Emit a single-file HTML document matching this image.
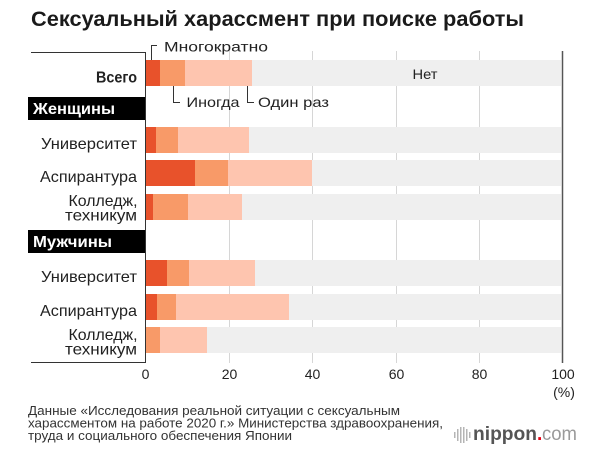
<!DOCTYPE html>
<html><head><meta charset="utf-8"><style>
html,body{margin:0;padding:0;background:#fff;}
svg{display:block;}
text{font-family:"Liberation Sans","DejaVu Sans",sans-serif;}
</style></head><body>
<svg width="616" height="468" viewBox="0 0 616 468" xmlns="http://www.w3.org/2000/svg">
<rect width="616" height="468" fill="#fff"/>
<!-- Title -->
<text x="31" y="26" font-size="21" font-weight="bold" fill="#1a1a1a" textLength="493" lengthAdjust="spacingAndGlyphs">Сексуальный харассмент при поиске работы</text>

<!-- gridlines -->
<g stroke="#d6d6d6" stroke-width="1">
<line x1="229.5" y1="51" x2="229.5" y2="363"/>
<line x1="312.5" y1="51" x2="312.5" y2="363"/>
<line x1="396.5" y1="51" x2="396.5" y2="363"/>
<line x1="479.5" y1="51" x2="479.5" y2="363"/>
</g>

<!-- bars -->
<g>
<!-- Всего -->
<rect x="146" y="60" width="415" height="26" fill="#efefef"/>
<rect x="146" y="60" width="106" height="26" fill="#fec5af"/>
<rect x="146" y="60" width="39" height="26" fill="#f89a68"/>
<rect x="146" y="60" width="14" height="26" fill="#e8522b"/>
<!-- W Univ -->
<rect x="146" y="127" width="415" height="26" fill="#efefef"/>
<rect x="146" y="127" width="103" height="26" fill="#fec5af"/>
<rect x="146" y="127" width="32" height="26" fill="#f89a68"/>
<rect x="146" y="127" width="10" height="26" fill="#e8522b"/>
<!-- W Asp -->
<rect x="146" y="160" width="415" height="26" fill="#efefef"/>
<rect x="146" y="160" width="166" height="26" fill="#fec5af"/>
<rect x="146" y="160" width="82" height="26" fill="#f89a68"/>
<rect x="146" y="160" width="49" height="26" fill="#e8522b"/>
<!-- W Coll -->
<rect x="146" y="194" width="415" height="26" fill="#efefef"/>
<rect x="146" y="194" width="96" height="26" fill="#fec5af"/>
<rect x="146" y="194" width="42" height="26" fill="#f89a68"/>
<rect x="146" y="194" width="7" height="26" fill="#e8522b"/>
<!-- M Univ -->
<rect x="146" y="260" width="415" height="26" fill="#efefef"/>
<rect x="146" y="260" width="109" height="26" fill="#fec5af"/>
<rect x="146" y="260" width="43" height="26" fill="#f89a68"/>
<rect x="146" y="260" width="21" height="26" fill="#e8522b"/>
<!-- M Asp -->
<rect x="146" y="294" width="415" height="26" fill="#efefef"/>
<rect x="146" y="294" width="143" height="26" fill="#fec5af"/>
<rect x="146" y="294" width="30" height="26" fill="#f89a68"/>
<rect x="146" y="294" width="11" height="26" fill="#e8522b"/>
<!-- M Coll -->
<rect x="146" y="327" width="415" height="26" fill="#efefef"/>
<rect x="146" y="327" width="61" height="26" fill="#fec5af"/>
<rect x="146" y="327" width="14" height="26" fill="#f89a68"/>
</g>

<!-- 100 line -->
<line x1="562.5" y1="51" x2="562.5" y2="363" stroke="#555" stroke-width="1.5"/>

<!-- label frame -->
<path d="M31,52.5 H145.5 V362.5 H31" fill="none" stroke="#333" stroke-width="1"/>

<!-- Group headers -->
<rect x="28" y="97" width="117" height="23" fill="#000"/>
<text x="33" y="114" font-size="16" font-weight="bold" fill="#fff" textLength="82" lengthAdjust="spacingAndGlyphs">Женщины</text>
<rect x="28" y="230" width="117" height="23" fill="#000"/>
<text x="33" y="247" font-size="16" font-weight="bold" fill="#fff" textLength="79" lengthAdjust="spacingAndGlyphs">Мужчины</text>

<!-- Row labels -->
<g font-size="16" fill="#222" text-anchor="end">
<text x="137" y="82.5" font-weight="bold" textLength="41" lengthAdjust="spacingAndGlyphs">Всего</text>
<text x="137" y="149" textLength="96" lengthAdjust="spacingAndGlyphs">Университет</text>
<text x="137" y="182" textLength="97" lengthAdjust="spacingAndGlyphs">Аспирантура</text>
<text x="137.5" y="206" textLength="69" lengthAdjust="spacingAndGlyphs">Колледж,</text>
<text x="137" y="220.5" textLength="72" lengthAdjust="spacingAndGlyphs">техникум</text>
<text x="137" y="282" textLength="96" lengthAdjust="spacingAndGlyphs">Университет</text>
<text x="137" y="316" textLength="97" lengthAdjust="spacingAndGlyphs">Аспирантура</text>
<text x="137.5" y="340" textLength="69" lengthAdjust="spacingAndGlyphs">Колледж,</text>
<text x="137" y="354.5" textLength="72" lengthAdjust="spacingAndGlyphs">техникум</text>
</g>

<!-- Annotations -->
<g fill="none" stroke="#333" stroke-width="1">
<path d="M151.5,60 V45.5 H157"/>
<path d="M173.5,86 V102.5 H180"/>
<path d="M247.5,86 V102.5 H254"/>
</g>
<g font-size="14" fill="#222">
<text x="164" y="51.5" textLength="104" lengthAdjust="spacingAndGlyphs">Многократно</text>
<text x="186.5" y="107" textLength="53" lengthAdjust="spacingAndGlyphs">Иногда</text>
<text x="258" y="107" textLength="71" lengthAdjust="spacingAndGlyphs">Один раз</text>
<text x="425" y="79" text-anchor="middle" textLength="25" lengthAdjust="spacingAndGlyphs">Нет</text>
</g>

<!-- Tick labels -->
<g font-size="14" fill="#222" text-anchor="middle">
<text x="145.5" y="379">0</text>
<text x="229.5" y="379">20</text>
<text x="312.5" y="379">40</text>
<text x="396.5" y="379">60</text>
<text x="479.5" y="379">80</text>
<text x="563" y="379">100</text>
<text x="564" y="397">(%)</text>
</g>

<!-- Footer -->
<g font-size="12.5" fill="#333">
<text x="28" y="415" textLength="372" lengthAdjust="spacingAndGlyphs">Данные «Исследования реальной ситуации с сексуальным</text>
<text x="28" y="427.5" textLength="415" lengthAdjust="spacingAndGlyphs">харассментом на работе 2020 г.» Министерства здравоохранения,</text>
<text x="28" y="440" textLength="264" lengthAdjust="spacingAndGlyphs">труда и социального обеспечения Японии</text>
</g>

<!-- nippon.com logo -->
<g fill="#b5b5b5">
<rect x="454" y="432" width="1.5" height="6"/>
<rect x="457" y="429" width="1.5" height="12"/>
<rect x="460" y="427" width="1.5" height="16"/>
<rect x="463" y="427" width="1.5" height="16"/>
<rect x="466" y="429" width="1.5" height="12"/>
<rect x="469" y="432" width="1.5" height="6"/>
</g>
<text x="473" y="440" font-size="19" font-weight="bold" fill="#555" textLength="64" lengthAdjust="spacingAndGlyphs">nippon</text>
<text x="537" y="440" font-size="19" font-weight="bold" fill="#e60012">.</text>
<text x="542" y="440" font-size="19" fill="#9a9a9a" textLength="35" lengthAdjust="spacingAndGlyphs">com</text>
</svg>
</body></html>
